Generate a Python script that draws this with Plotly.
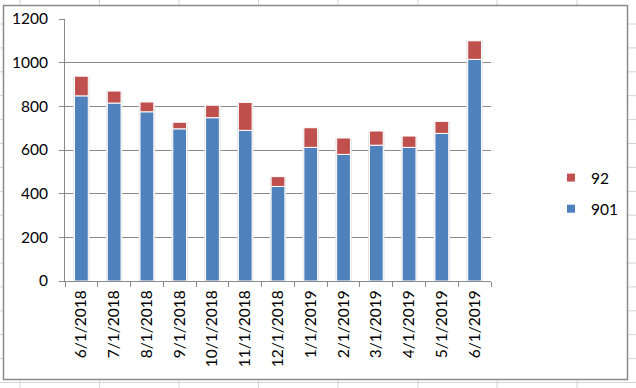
import plotly.graph_objects as go

categories = ["6/1/2018", "7/1/2018", "8/1/2018", "9/1/2018", "10/1/2018", "11/1/2018",
              "12/1/2018", "1/1/2019", "2/1/2019", "3/1/2019", "4/1/2019", "5/1/2019", "6/1/2019"]
s901 = [848, 815, 775, 697, 748, 690, 433, 612, 580, 622, 612, 676, 1015]
s92 = [90, 55, 45, 30, 57, 128, 45, 90, 75, 65, 52, 55, 85]
y_ticks = [0, 200, 400, 600, 800, 1000, 1200]

BLUE = "#4F81BD"
RED = "#C0504D"
FONT = "Lato"
W, H = 636, 388

totals = [a + b for a, b in zip(s901, s92)]

fig = go.Figure()
# soft shadow behind the bars
fig.add_trace(go.Bar(x=categories, y=totals, base=0, width=0.5,
                     marker=dict(color="#e4e4e4", line=dict(width=0)),
                     showlegend=False, hoverinfo="skip"))
fig.add_trace(go.Bar(x=categories, y=s901, base=0, width=0.42, name="901",
                     marker=dict(color=BLUE, line=dict(color="white", width=1)),
                     showlegend=False))
fig.add_trace(go.Bar(x=categories, y=s92, base=s901, width=0.42, name="92",
                     marker=dict(color=RED, line=dict(color="white", width=1)),
                     showlegend=False))
# legend entries
fig.add_trace(go.Scatter(x=[None], y=[None], mode="markers", name="92",
                         marker=dict(symbol="square", size=8, color=RED),
                         legendgroup="a"))
fig.add_trace(go.Scatter(x=[None], y=[None], mode="markers", name="901",
                         marker=dict(symbol="square", size=8, color=BLUE),
                         legendgroup="b"))

shapes = []
GRID = "#d4d4d4"
for gx in [20, 99.5, 179, 258.5, 338, 418, 497, 577]:
    shapes.append(dict(type="line", xref="paper", yref="paper", x0=gx / W, x1=gx / W,
                       y0=0, y1=1, line=dict(color=GRID, width=1), layer="below"))
gy = 24
while gy < H:
    shapes.append(dict(type="line", xref="paper", yref="paper", x0=0, x1=1,
                       y0=1 - gy / H, y1=1 - gy / H, line=dict(color=GRID, width=1), layer="below"))
    gy += 23.9
shapes.append(dict(type="rect", xref="paper", yref="paper",
                   x0=3.5 / W, x1=627.5 / W, y0=1 - 379.5 / H, y1=1 - 5.5 / H,
                   fillcolor="white", line=dict(color="#8a8a8a", width=1.5), layer="below"))

fig.update_layout(
    width=W, height=H,
    margin=dict(l=0, r=0, t=0, b=0),
    paper_bgcolor="white", plot_bgcolor="rgba(0,0,0,0)",
    barmode="overlay",
    font=dict(family=FONT, size=15, color="black"),
    shapes=shapes,
    xaxis=dict(domain=[65 / W, 491 / W], type="category", tickangle=-90,
               showline=True, linecolor="#8a8a8a", linewidth=1,
               ticks="outside", ticklen=5, tickcolor="#8a8a8a", tickson="boundaries",
               showgrid=False, automargin=False, tickfont=dict(size=15.5),
               ticklabelstandoff=2),
    yaxis=dict(domain=[1 - 281 / H, 1 - 19 / H], range=[0, 1200],
               tickvals=y_ticks, showline=True, linecolor="#8a8a8a", linewidth=1,
               ticks="outside", ticklen=5, tickcolor="#8a8a8a",
               gridcolor="#8a8a8a", gridwidth=1, zeroline=False,
               automargin=False, tickfont=dict(size=15.5), ticklabelstandoff=8),
    legend=dict(x=551 / W, y=1 - 161 / H, xanchor="left", yanchor="top",
                traceorder="grouped", tracegroupgap=8, bgcolor="rgba(0,0,0,0)",
                font=dict(size=15.5), itemwidth=30),
)

fig.write_html("out.html", config={"displayModeBar": False},
               post_script="document.body.style.margin='0px';document.body.style.padding='0px';")
